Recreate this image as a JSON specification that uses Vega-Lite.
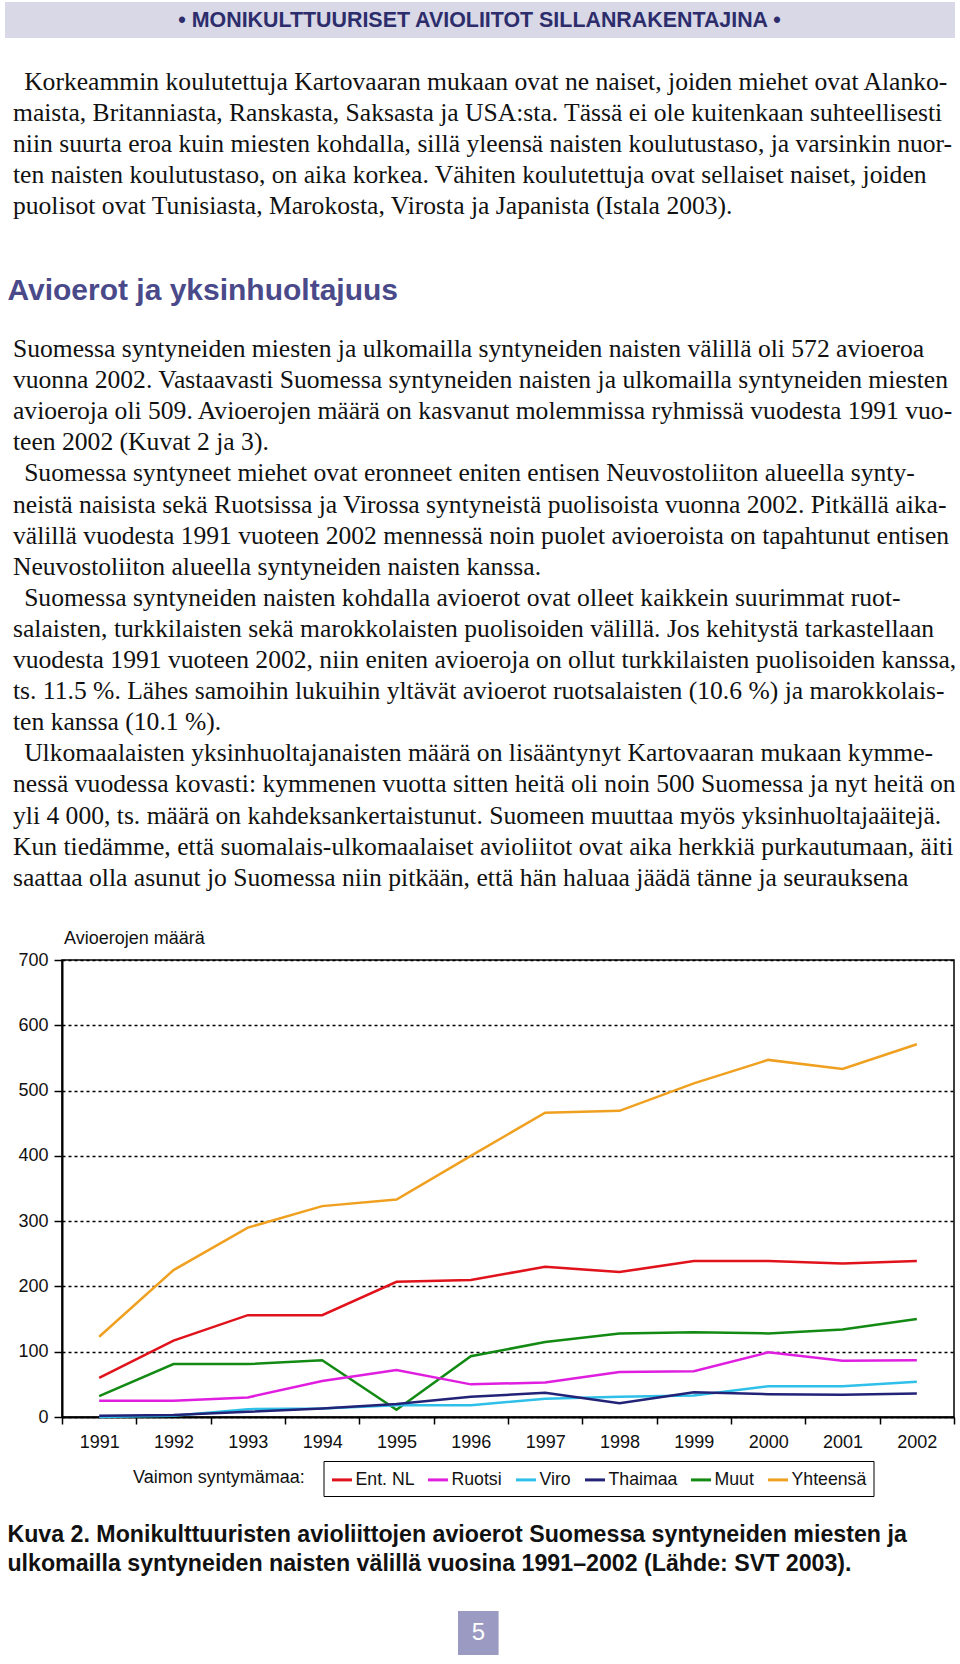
{
  "$schema": "https://vega.github.io/schema/vega-lite/v6.json",
  "background": "white",
  "padding": {"left": 5, "top": 2, "right": 0, "bottom": 0},
  "spacing": 0,
  "bounds": "flush",
  "config": {"view": {"stroke": null}, "font": "Liberation Sans"},
  "datasets": {
    "header": [{"t": "• MONIKULTTUURISET AVIOLIITOT SILLANRAKENTAJINA •"}],
    "body": [
      {"block": "p1", "line": 0, "first": true, "t": "Korkeammin koulutettuja Kartovaaran mukaan ovat ne naiset, joiden miehet ovat Alanko-"},
      {"block": "p1", "line": 1, "first": false, "t": "maista, Britanniasta, Ranskasta, Saksasta ja USA:sta. Tässä ei ole kuitenkaan suhteellisesti"},
      {"block": "p1", "line": 2, "first": false, "t": "niin suurta eroa kuin miesten kohdalla, sillä yleensä naisten koulutustaso, ja varsinkin nuor-"},
      {"block": "p1", "line": 3, "first": false, "t": "ten naisten koulutustaso, on aika korkea. Vähiten koulutettuja ovat sellaiset naiset, joiden"},
      {"block": "p1", "line": 4, "first": false, "t": "puolisot ovat Tunisiasta, Marokosta, Virosta ja Japanista (Istala 2003)."},
      {"block": "p2", "line": 0, "first": false, "t": "Suomessa syntyneiden miesten ja ulkomailla syntyneiden naisten välillä oli 572 avioeroa"},
      {"block": "p2", "line": 1, "first": false, "t": "vuonna 2002. Vastaavasti Suomessa syntyneiden naisten ja ulkomailla syntyneiden miesten"},
      {"block": "p2", "line": 2, "first": false, "t": "avioeroja oli 509. Avioerojen määrä on kasvanut molemmissa ryhmissä vuodesta 1991 vuo-"},
      {"block": "p2", "line": 3, "first": false, "t": "teen 2002 (Kuvat 2 ja 3)."},
      {"block": "p2", "line": 4, "first": true, "t": "Suomessa syntyneet miehet ovat eronneet eniten entisen Neuvostoliiton alueella synty-"},
      {"block": "p2", "line": 5, "first": false, "t": "neistä naisista sekä Ruotsissa ja Virossa syntyneistä puolisoista vuonna 2002. Pitkällä aika-"},
      {"block": "p2", "line": 6, "first": false, "t": "välillä vuodesta 1991 vuoteen 2002 mennessä noin puolet avioeroista on tapahtunut entisen"},
      {"block": "p2", "line": 7, "first": false, "t": "Neuvostoliiton alueella syntyneiden naisten kanssa."},
      {"block": "p2", "line": 8, "first": true, "t": "Suomessa syntyneiden naisten kohdalla avioerot ovat olleet kaikkein suurimmat ruot-"},
      {"block": "p2", "line": 9, "first": false, "t": "salaisten, turkkilaisten sekä marokkolaisten puolisoiden välillä. Jos kehitystä tarkastellaan"},
      {"block": "p2", "line": 10, "first": false, "t": "vuodesta 1991 vuoteen 2002, niin eniten avioeroja on ollut turkkilaisten puolisoiden kanssa,"},
      {"block": "p2", "line": 11, "first": false, "t": "ts. 11.5 %. Lähes samoihin lukuihin yltävät avioerot ruotsalaisten (10.6 %) ja marokkolais-"},
      {"block": "p2", "line": 12, "first": false, "t": "ten kanssa (10.1 %)."},
      {"block": "p2", "line": 13, "first": true, "t": "Ulkomaalaisten yksinhuoltajanaisten määrä on lisääntynyt Kartovaaran mukaan kymme-"},
      {"block": "p2", "line": 14, "first": false, "t": "nessä vuodessa kovasti: kymmenen vuotta sitten heitä oli noin 500 Suomessa ja nyt heitä on"},
      {"block": "p2", "line": 15, "first": false, "t": "yli 4 000, ts. määrä on kahdeksankertaistunut. Suomeen muuttaa myös yksinhuoltajaäitejä."},
      {"block": "p2", "line": 16, "first": false, "t": "Kun tiedämme, että suomalais-ulkomaalaiset avioliitot ovat aika herkkiä purkautumaan, äiti"},
      {"block": "p2", "line": 17, "first": false, "t": "saattaa olla asunut jo Suomessa niin pitkään, että hän haluaa jäädä tänne ja seurauksena"}
    ],
    "heading": [{"t": "Avioerot ja yksinhuoltajuus"}],
    "divorces": [
      {"year": "1991", "series": "Yhteensä", "value": 123}, {"year": "1992", "series": "Yhteensä", "value": 225}, {"year": "1993", "series": "Yhteensä", "value": 290}, {"year": "1994", "series": "Yhteensä", "value": 323}, {"year": "1995", "series": "Yhteensä", "value": 333}, {"year": "1996", "series": "Yhteensä", "value": 400}, {"year": "1997", "series": "Yhteensä", "value": 466}, {"year": "1998", "series": "Yhteensä", "value": 469}, {"year": "1999", "series": "Yhteensä", "value": 511}, {"year": "2000", "series": "Yhteensä", "value": 547}, {"year": "2001", "series": "Yhteensä", "value": 533}, {"year": "2002", "series": "Yhteensä", "value": 571},
      {"year": "1991", "series": "Ent. NL", "value": 60}, {"year": "1992", "series": "Ent. NL", "value": 117}, {"year": "1993", "series": "Ent. NL", "value": 156}, {"year": "1994", "series": "Ent. NL", "value": 156}, {"year": "1995", "series": "Ent. NL", "value": 207}, {"year": "1996", "series": "Ent. NL", "value": 210}, {"year": "1997", "series": "Ent. NL", "value": 230}, {"year": "1998", "series": "Ent. NL", "value": 222}, {"year": "1999", "series": "Ent. NL", "value": 239}, {"year": "2000", "series": "Ent. NL", "value": 239}, {"year": "2001", "series": "Ent. NL", "value": 235}, {"year": "2002", "series": "Ent. NL", "value": 239},
      {"year": "1991", "series": "Muut", "value": 32}, {"year": "1992", "series": "Muut", "value": 81}, {"year": "1993", "series": "Muut", "value": 81}, {"year": "1994", "series": "Muut", "value": 87}, {"year": "1995", "series": "Muut", "value": 11}, {"year": "1996", "series": "Muut", "value": 93}, {"year": "1997", "series": "Muut", "value": 115}, {"year": "1998", "series": "Muut", "value": 128}, {"year": "1999", "series": "Muut", "value": 130}, {"year": "2000", "series": "Muut", "value": 128}, {"year": "2001", "series": "Muut", "value": 134}, {"year": "2002", "series": "Muut", "value": 150},
      {"year": "1991", "series": "Ruotsi", "value": 25}, {"year": "1992", "series": "Ruotsi", "value": 25}, {"year": "1993", "series": "Ruotsi", "value": 30}, {"year": "1994", "series": "Ruotsi", "value": 55}, {"year": "1995", "series": "Ruotsi", "value": 72}, {"year": "1996", "series": "Ruotsi", "value": 50}, {"year": "1997", "series": "Ruotsi", "value": 53}, {"year": "1998", "series": "Ruotsi", "value": 69}, {"year": "1999", "series": "Ruotsi", "value": 70}, {"year": "2000", "series": "Ruotsi", "value": 99}, {"year": "2001", "series": "Ruotsi", "value": 86}, {"year": "2002", "series": "Ruotsi", "value": 87},
      {"year": "1991", "series": "Viro", "value": 0}, {"year": "1992", "series": "Viro", "value": 2}, {"year": "1993", "series": "Viro", "value": 12}, {"year": "1994", "series": "Viro", "value": 13}, {"year": "1995", "series": "Viro", "value": 18}, {"year": "1996", "series": "Viro", "value": 18}, {"year": "1997", "series": "Viro", "value": 28}, {"year": "1998", "series": "Viro", "value": 31}, {"year": "1999", "series": "Viro", "value": 33}, {"year": "2000", "series": "Viro", "value": 47}, {"year": "2001", "series": "Viro", "value": 47}, {"year": "2002", "series": "Viro", "value": 54},
      {"year": "1991", "series": "Thaimaa", "value": 2}, {"year": "1992", "series": "Thaimaa", "value": 3}, {"year": "1993", "series": "Thaimaa", "value": 8}, {"year": "1994", "series": "Thaimaa", "value": 13}, {"year": "1995", "series": "Thaimaa", "value": 20}, {"year": "1996", "series": "Thaimaa", "value": 31}, {"year": "1997", "series": "Thaimaa", "value": 37}, {"year": "1998", "series": "Thaimaa", "value": 21}, {"year": "1999", "series": "Thaimaa", "value": 38}, {"year": "2000", "series": "Thaimaa", "value": 35}, {"year": "2001", "series": "Thaimaa", "value": 34}, {"year": "2002", "series": "Thaimaa", "value": 36}
    ],
    "caption": [
      {"line": 0, "t": "Kuva 2. Monikulttuuristen avioliittojen avioerot Suomessa syntyneiden miesten ja"},
      {"line": 1, "t": "ulkomailla syntyneiden naisten välillä vuosina 1991–2002 (Lähde: SVT 2003)."}
    ],
    "page": [{"t": "5"}]
  },
  "vconcat": [
    {
      "width": 892,
      "height": 36,
      "data": {"name": "header"},
      "layer": [
        {
          "mark": {"type": "rect", "color": "#d8d8e7"},
          "encoding": {"x": {"value": -57}, "x2": {"value": 893}, "y": {"value": 0}, "y2": {"value": 36}}
        },
        {
          "mark": {"type": "text", "font": "Liberation Sans", "fontWeight": "bold", "fontSize": 21.4, "color": "#2d2d6c", "align": "center", "baseline": "middle"},
          "encoding": {"text": {"field": "t"}, "x": {"value": 417.5}, "y": {"value": 19}}
        }
      ]
    },
    {
      "width": 892,
      "height": 922,
      "data": {"name": "body"},
      "resolve": {"scale": {"y": "independent", "x": "independent"}},
      "layer": [
        {
          "transform": [{"filter": "datum.block === 'p1'"}],
          "mark": {"type": "text", "font": "Liberation Serif", "fontSize": 25.6, "color": "#111", "align": "left", "baseline": "middle"},
          "encoding": {
            "text": {"field": "t"},
            "y": {"field": "line", "type": "ordinal", "scale": {"type": "point", "padding": 0, "range": [43.7, 168.1]}, "axis": null},
            "x": {"field": "first", "type": "nominal", "scale": {"domain": [false, true], "range": [-54.6, -32.3]}, "axis": null}
          }
        },
        {
          "data": {"name": "heading"},
          "mark": {"type": "text", "font": "Liberation Sans", "fontWeight": "bold", "fontSize": 30, "color": "#4a4a8a", "align": "left", "baseline": "middle"},
          "encoding": {"text": {"field": "t"}, "x": {"value": -54.6}, "y": {"value": 252.6}}
        },
        {
          "transform": [{"filter": "datum.block === 'p2'"}],
          "mark": {"type": "text", "font": "Liberation Serif", "fontSize": 25.6, "color": "#111", "align": "left", "baseline": "middle"},
          "encoding": {
            "text": {"field": "t"},
            "y": {"field": "line", "type": "ordinal", "scale": {"type": "point", "padding": 0, "range": [311, 839.7]}, "axis": null},
            "x": {"field": "first", "type": "nominal", "scale": {"domain": [false, true], "range": [-54.6, -32.3]}, "axis": null}
          }
        }
      ]
    },
    {
      "width": 892,
      "height": 457,
      "view": {"stroke": "black", "strokeWidth": 1.5},
      "data": {"name": "divorces"},
      "mark": {"type": "line", "strokeWidth": 2.5},
      "encoding": {
        "x": {
          "field": "year", "type": "ordinal", "bandPosition": 0.5,
          "scale": {"type": "band", "paddingInner": 0, "paddingOuter": 0},
          "axis": {
            "title": "Vaimon syntymämaa:", "titleX": 70.6, "titleY": 60, "titleAlign": "left", "titleBaseline": "middle",
            "titleFontWeight": "normal", "titleFontSize": 18, "titleColor": "#111", "titleFont": "Liberation Sans",
            "tickBand": "extent", "labelAngle": 0, "labelFontSize": 18, "labelColor": "#111", "labelPadding": 9,
            "tickSize": 7, "tickColor": "black", "tickWidth": 1.5, "domainColor": "black", "domainWidth": 2, "grid": false
          }
        },
        "y": {
          "field": "value", "type": "quantitative",
          "scale": {"domain": [0, 700], "nice": false},
          "axis": {
            "values": [0, 100, 200, 300, 400, 500, 600, 700],
            "title": "Avioerojen määrä", "titleAngle": 0, "titleX": 1.6, "titleY": -22, "titleAlign": "left", "titleBaseline": "middle",
            "titleFontWeight": "normal", "titleFontSize": 18, "titleColor": "#111", "titleFont": "Liberation Sans",
            "grid": true, "gridDash": [3, 3], "gridColor": "black", "gridWidth": 1.3, "gridOpacity": 1,
            "tickSize": 8, "tickColor": "black", "tickWidth": 1.5, "labelPadding": 6, "labelFontSize": 18, "labelColor": "#111",
            "domainColor": "black", "domainWidth": 2
          }
        },
        "color": {
          "field": "series", "type": "nominal",
          "scale": {
            "domain": ["Ent. NL", "Ruotsi", "Viro", "Thaimaa", "Muut", "Yhteensä"],
            "range": ["#e0121b", "#e01ee0", "#2ec0e8", "#222277", "#138a13", "#f0a020"]
          },
          "legend": {
            "orient": "none", "legendX": 261.5, "legendY": 1459, "direction": "horizontal", "columns": 6, "title": null,
            "symbolType": "stroke", "symbolStrokeWidth": 3, "symbolSize": 400, "labelFontSize": 17.7, "labelColor": "#111",
            "labelOffset": 2, "columnPadding": 7, "padding": 7, "strokeColor": "black", "fillColor": "white"
          }
        }
      }
    },
    {
      "width": 892,
      "height": 247,
      "resolve": {"scale": {"y": "independent", "x": "independent"}},
      "layer": [
        {
          "data": {"name": "caption"},
          "mark": {"type": "text", "font": "Liberation Sans", "fontWeight": "bold", "fontSize": 23.2, "color": "#111", "align": "left", "baseline": "middle"},
          "encoding": {
            "text": {"field": "t"},
            "y": {"field": "line", "type": "ordinal", "scale": {"type": "point", "padding": 0, "range": [118, 146.6]}, "axis": null},
            "x": {"value": -54.6}
          }
        },
        {
          "data": {"name": "page"},
          "mark": {"type": "rect", "color": "#9a9ac2"},
          "encoding": {"x": {"value": 396}, "x2": {"value": 436.6}, "y": {"value": 194}, "y2": {"value": 238}}
        },
        {
          "data": {"name": "page"},
          "mark": {"type": "text", "font": "Liberation Sans", "fontSize": 24, "color": "white", "align": "center", "baseline": "middle"},
          "encoding": {"text": {"field": "t"}, "x": {"value": 416.3}, "y": {"value": 216}}
        }
      ]
    }
  ]
}
